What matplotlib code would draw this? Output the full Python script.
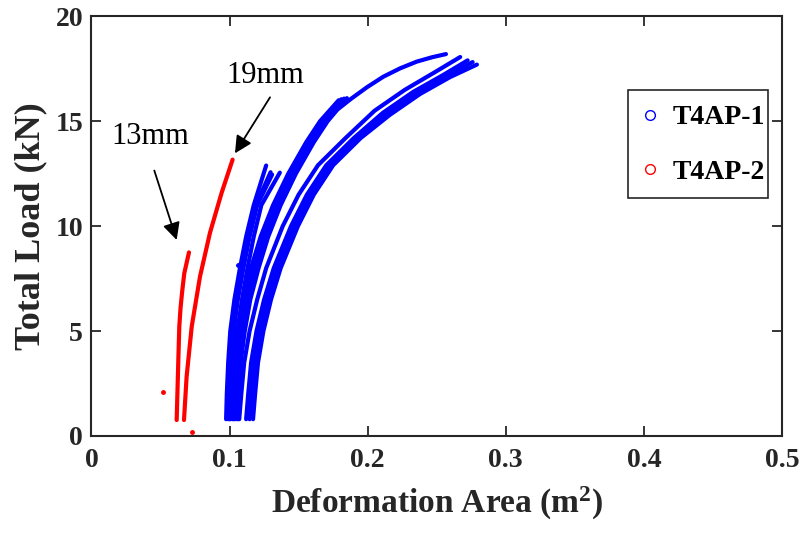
import matplotlib
matplotlib.use("Agg")
import matplotlib.pyplot as plt
from matplotlib.lines import Line2D
from matplotlib.patches import Rectangle

# T4AP-2 (red) loading curves
red_13mm_x = [0.0617, 0.0629, 0.0636, 0.0645, 0.0657, 0.0672, 0.0706]
red_13mm_y = [0.76, 3.63, 5.22, 6.10, 6.90, 7.75, 8.75]
red_19mm_x = [0.0670, 0.0689, 0.0726, 0.0786, 0.0858, 0.0943, 0.1022]
red_19mm_y = [0.76, 2.83, 5.22, 7.60, 9.68, 11.60, 13.17]
red_stray_x = [0.0516, 0.0726]
red_stray_y = [2.08, 0.18]

# T4AP-1 (blue) loading curves
blue_x = [
    # short group
    [0.0975, 0.0980, 0.0990, 0.1005, 0.1035, 0.1075, 0.1120, 0.1175, 0.1265],
    [0.0990, 0.0995, 0.1005, 0.1020, 0.1050, 0.1090, 0.1135, 0.1190, 0.1297],
    [0.1000, 0.1005, 0.1015, 0.1030, 0.1060, 0.1100, 0.1145, 0.1200, 0.1308],
    [0.1030, 0.1035, 0.1045, 0.1060, 0.1090, 0.1130, 0.1175, 0.1230, 0.1364],
    # middle group
    [0.1005, 0.1010, 0.1025, 0.1055, 0.1095, 0.1155, 0.1225, 0.1315, 0.1425, 0.1555, 0.1655, 0.1790],
    [0.1020, 0.1025, 0.1040, 0.1070, 0.1110, 0.1170, 0.1240, 0.1330, 0.1440, 0.1570, 0.1670, 0.1810],
    [0.1035, 0.1040, 0.1055, 0.1085, 0.1125, 0.1185, 0.1255, 0.1345, 0.1455, 0.1585, 0.1685, 0.1830],
    [0.1050, 0.1055, 0.1070, 0.1100, 0.1140, 0.1200, 0.1270, 0.1360, 0.1470, 0.1600, 0.1700, 0.1850],
    [0.1060, 0.1065, 0.1080, 0.1110, 0.1150, 0.1210, 0.1280, 0.1370, 0.1480, 0.1610, 0.1710, 0.1780,
     0.1880, 0.1995, 0.2113, 0.2235, 0.2355, 0.2467, 0.2567],
    # right group
    [0.1070, 0.1085, 0.1106, 0.1145, 0.1200, 0.1265, 0.1385, 0.1500, 0.1640, 0.1840, 0.2050, 0.2270,
     0.2490, 0.2670],
    [0.1120, 0.1135, 0.1156, 0.1195, 0.1250, 0.1320, 0.1445, 0.1560, 0.1700, 0.1900, 0.2110, 0.2330,
     0.2546, 0.2724],
    [0.1145, 0.1160, 0.1181, 0.1220, 0.1275, 0.1345, 0.1470, 0.1585, 0.1725, 0.1925, 0.2135, 0.2355,
     0.2571, 0.2760],
    [0.1170, 0.1185, 0.1206, 0.1245, 0.1300, 0.1370, 0.1495, 0.1610, 0.1750, 0.1950, 0.2160, 0.2380,
     0.2596, 0.2791],
]
blue_y = [
    [0.8, 2.0, 3.5, 5.0, 6.5, 8.0, 9.5, 11.0, 12.89],
    [0.8, 2.0, 3.5, 5.0, 6.5, 8.0, 9.5, 11.0, 12.57],
    [0.8, 2.0, 3.5, 5.0, 6.5, 8.0, 9.5, 11.0, 12.46],
    [0.8, 2.0, 3.5, 5.0, 6.5, 8.0, 9.5, 11.0, 12.55],
    [0.8, 2.0, 3.5, 5.0, 6.5, 8.0, 9.5, 11.0, 12.5, 14.0, 15.0, 16.00],
    [0.8, 2.0, 3.5, 5.0, 6.5, 8.0, 9.5, 11.0, 12.5, 14.0, 15.0, 16.05],
    [0.8, 2.0, 3.5, 5.0, 6.5, 8.0, 9.5, 11.0, 12.5, 14.0, 15.0, 16.08],
    [0.8, 2.0, 3.5, 5.0, 6.5, 8.0, 9.5, 11.0, 12.5, 14.0, 15.0, 16.10],
    [0.8, 2.0, 3.5, 5.0, 6.5, 8.0, 9.5, 11.0, 12.5, 14.0, 15.0, 15.55, 16.07, 16.62, 17.12, 17.52,
     17.84, 18.05, 18.20],
    [0.8, 2.0, 3.5, 5.0, 6.5, 8.0, 10.0, 11.5, 12.9, 14.2, 15.5, 16.5, 17.35, 18.06],
    [0.8, 2.0, 3.5, 5.0, 6.5, 8.0, 10.0, 11.5, 12.9, 14.2, 15.4, 16.4, 17.20, 17.90],
    [0.8, 2.0, 3.5, 5.0, 6.5, 8.0, 10.0, 11.5, 12.9, 14.2, 15.35, 16.35, 17.15, 17.82],
    [0.8, 2.0, 3.5, 5.0, 6.5, 8.0, 10.0, 11.5, 12.9, 14.2, 15.3, 16.3, 17.10, 17.70],
]
blue_stray_x = [0.1061]
blue_stray_y = [8.15]

x_ticks = [0, 0.1, 0.2, 0.3, 0.4, 0.5]
x_tick_labels = ['0', '0.1', '0.2', '0.3', '0.4', '0.5']
y_ticks = [0, 5, 10, 15, 20]
series_names = ['T4AP-1', 'T4AP-2']

plt.rcParams['font.family'] = ['Liberation Serif', 'DejaVu Serif']
plt.rcParams['mathtext.fontset'] = 'custom'
plt.rcParams['mathtext.rm'] = 'Liberation Serif:bold'
plt.rcParams['mathtext.it'] = 'Liberation Serif:bold'
plt.rcParams['mathtext.bf'] = 'Liberation Serif:bold'

fig = plt.figure(figsize=(8.01, 5.33), dpi=100)
ax = fig.add_axes([0.1142, 0.182, 0.862, 0.7874])

for xs, ys in zip(blue_x, blue_y):
    ax.plot(xs, ys, color='#0000ff', lw=3.0, solid_capstyle='round', zorder=2)
ax.plot(blue_stray_x, blue_stray_y, 'o', color='#0000ff', ms=2.5, zorder=2)

ax.plot(red_13mm_x, red_13mm_y, color='#ff0000', lw=3.0, solid_capstyle='round', zorder=3)
ax.plot(red_19mm_x, red_19mm_y, color='#ff0000', lw=3.0, solid_capstyle='round', zorder=3)
ax.plot(red_stray_x, red_stray_y, 'o', color='#ff0000', ms=2.5, zorder=3)

# arrows + labels
arrow = dict(arrowstyle='-|>', color='black', lw=1.3, mutation_scale=26, shrinkA=0, shrinkB=0)
ax.annotate('', xy=(0.1039, 13.47), xytext=(0.1293, 16.14), arrowprops=arrow)
ax.annotate('', xy=(0.0617, 9.34), xytext=(0.0455, 12.65), arrowprops=arrow)
ax.text(0.1256, 17.2, '19mm', fontsize=22, ha='center', va='center')
ax.text(0.0424, 14.25, '13mm', fontsize=22, ha='center', va='center')

ax.set_xlim(0, 0.5)
ax.set_ylim(0, 20)
ax.set_xticks(x_ticks)
ax.set_xticklabels(x_tick_labels)
ax.set_yticks(y_ticks)
ax.tick_params(direction='in', length=7, width=1.3, top=True, right=True,
               labelsize=20, color='#262626')
ax.tick_params(axis='y', pad=6)
ax.tick_params(axis='x', pad=9)
for lab in ax.get_xticklabels() + ax.get_yticklabels():
    lab.set_fontweight('bold')
    lab.set_color('#262626')
for sp in ax.spines.values():
    sp.set_linewidth(1.5)
    sp.set_color('#262626')

ax.set_xlabel('Deformation Area (m$^{2}$)', fontsize=24, fontweight='bold', color='#262626', labelpad=8)
ax.set_ylabel('Total Load (kN)', fontsize=26, fontweight='bold', color='#262626', labelpad=6)

# legend: frame drawn separately so padding can be taller than wide
ax.add_patch(Rectangle((0.777, 0.567), 0.203, 0.257, transform=ax.transAxes, fill=True,
                       facecolor='white', edgecolor='#262626', lw=1.2, zorder=5))
handles = [
    Line2D([], [], ls='none', marker='o', mfc='none', mec='#0000ff', ms=7, mew=1),
    Line2D([], [], ls='none', marker='o', mfc='none', mec='#ff0000', ms=7, mew=1),
]
leg = ax.legend(handles, series_names, loc='upper left', bbox_to_anchor=(0.797, 0.789),
                prop={'size': 20, 'weight': 'bold'}, frameon=False, borderpad=0,
                borderaxespad=0, handlelength=0.6, handletextpad=0.5, labelspacing=1.05)
leg.set_zorder(6)

fig.savefig('out.png', dpi=100)
